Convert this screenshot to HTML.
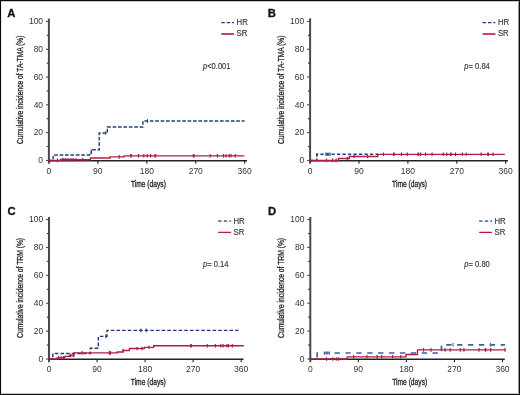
<!DOCTYPE html>
<html><head><meta charset="utf-8"><style>
html,body{margin:0;padding:0;background:#fff;}
body{width:520px;height:395px;overflow:hidden;}
svg{display:block;font-family:"Liberation Sans", sans-serif;will-change:transform;}
</style></head><body>
<svg width="520" height="395" viewBox="0 0 520 395">
<rect x="0" y="0" width="520" height="395" fill="#fff"/>
<line x1="48.90" y1="18.50" x2="48.90" y2="163.65" stroke="#4a4a4a" stroke-width="2"/>
<line x1="48.10" y1="160.70" x2="247.00" y2="160.70" stroke="#222" stroke-width="1.4"/>
<line x1="45.90" y1="160.45" x2="48.90" y2="160.45" stroke="#4a4a4a" stroke-width="1.1"/>
<text x="43.10" y="163.25" text-anchor="end" font-size="8.5" fill="#333" >0</text>
<line x1="46.70" y1="146.55" x2="48.90" y2="146.55" stroke="#333" stroke-width="1.1"/>
<line x1="45.90" y1="132.65" x2="48.90" y2="132.65" stroke="#4a4a4a" stroke-width="1.1"/>
<text x="43.10" y="135.45" text-anchor="end" font-size="8.5" fill="#333" >20</text>
<line x1="46.70" y1="118.75" x2="48.90" y2="118.75" stroke="#333" stroke-width="1.1"/>
<line x1="45.90" y1="104.85" x2="48.90" y2="104.85" stroke="#4a4a4a" stroke-width="1.1"/>
<text x="43.10" y="107.65" text-anchor="end" font-size="8.5" fill="#333" >40</text>
<line x1="46.70" y1="90.95" x2="48.90" y2="90.95" stroke="#333" stroke-width="1.1"/>
<line x1="45.90" y1="77.05" x2="48.90" y2="77.05" stroke="#4a4a4a" stroke-width="1.1"/>
<text x="43.10" y="79.85" text-anchor="end" font-size="8.5" fill="#333" >60</text>
<line x1="46.70" y1="63.15" x2="48.90" y2="63.15" stroke="#333" stroke-width="1.1"/>
<line x1="45.90" y1="49.25" x2="48.90" y2="49.25" stroke="#4a4a4a" stroke-width="1.1"/>
<text x="43.10" y="52.05" text-anchor="end" font-size="8.5" fill="#333" >80</text>
<line x1="46.70" y1="35.35" x2="48.90" y2="35.35" stroke="#333" stroke-width="1.1"/>
<line x1="45.90" y1="21.45" x2="48.90" y2="21.45" stroke="#4a4a4a" stroke-width="1.1"/>
<text x="43.10" y="24.25" text-anchor="end" font-size="8.5" fill="#333" >100</text>
<text x="48.90" y="173.65" text-anchor="middle" font-size="8.5" fill="#333" >0</text>
<line x1="97.85" y1="160.45" x2="97.85" y2="163.65" stroke="#222" stroke-width="1.1"/>
<text x="97.85" y="173.65" text-anchor="middle" font-size="8.5" fill="#333" >90</text>
<line x1="146.80" y1="160.45" x2="146.80" y2="163.65" stroke="#222" stroke-width="1.1"/>
<text x="146.80" y="173.65" text-anchor="middle" font-size="8.5" fill="#333" >180</text>
<line x1="195.75" y1="160.45" x2="195.75" y2="163.65" stroke="#222" stroke-width="1.1"/>
<text x="195.75" y="173.65" text-anchor="middle" font-size="8.5" fill="#333" >270</text>
<line x1="244.70" y1="160.45" x2="244.70" y2="163.65" stroke="#222" stroke-width="1.1"/>
<text x="244.70" y="173.65" text-anchor="middle" font-size="8.5" fill="#333" >360</text>
<text transform="translate(23.10,89.80) rotate(-90)" text-anchor="middle" font-size="9.7" fill="#222" stroke="#222" stroke-width="0.3" textLength="108.6" lengthAdjust="spacingAndGlyphs">Cumulative incidence of TA-TMA (%)</text>
<text x="148.40" y="186.60" text-anchor="middle" font-size="8.9" fill="#222" stroke="#222" stroke-width="0.3" textLength="35" lengthAdjust="spacingAndGlyphs">Time (days)</text>
<text x="7.20" y="16.80" font-size="11.3" font-weight="bold" fill="#111" stroke="#111" stroke-width="0.3">A</text>
<line x1="221.30" y1="22.70" x2="234.10" y2="22.70" stroke="#22407e" stroke-width="1.3" stroke-dasharray="3.5 1.9"/>
<line x1="221.30" y1="34.00" x2="234.10" y2="34.00" stroke="#c8456a" stroke-width="2"/>
<text transform="translate(236.60,24.80) scale(1.0,1.06)" text-anchor="start" font-size="7.8" fill="#333" stroke="#333" stroke-width="0.12">HR</text>
<text transform="translate(236.60,36.30) scale(1.0,1.06)" text-anchor="start" font-size="7.8" fill="#333" stroke="#333" stroke-width="0.12">SR</text>
<text transform="translate(202.90,68.80) scale(1.0,1.13)" text-anchor="start" font-size="7.6" fill="#333" stroke="#333" stroke-width="0.12"><tspan font-style="italic">p</tspan>&lt;0.001</text>
<path d="M48.90,160.45 H53.20 V155.00 H91.30 V149.70 H99.20 V133.00 H107.30 V127.00 H142.90 V121.00 H244.50 V121.00" fill="none" stroke="#1f3c78" stroke-width="1.4" stroke-dasharray="3.6 1.8" stroke-dashoffset="0"/>
<path d="M48.90,160.45 H60.50 V159.70 H90.40 V158.00 H110.00 V156.90 H124.20 V155.80 H244.40 V155.80" fill="none" stroke="#aa1f47" stroke-width="1.35"/>
<line x1="57.40" y1="158.60" x2="57.40" y2="162.20" stroke="#aa1f47" stroke-width="1.2"/>
<line x1="62.40" y1="157.90" x2="62.40" y2="161.50" stroke="#aa1f47" stroke-width="1.2"/>
<line x1="63.90" y1="157.90" x2="63.90" y2="161.50" stroke="#aa1f47" stroke-width="1.2"/>
<line x1="65.80" y1="157.90" x2="65.80" y2="161.50" stroke="#aa1f47" stroke-width="1.2"/>
<line x1="68.20" y1="157.90" x2="68.20" y2="161.50" stroke="#aa1f47" stroke-width="1.2"/>
<line x1="71.00" y1="157.90" x2="71.00" y2="161.50" stroke="#aa1f47" stroke-width="1.2"/>
<line x1="73.20" y1="157.90" x2="73.20" y2="161.50" stroke="#aa1f47" stroke-width="1.2"/>
<line x1="75.90" y1="157.90" x2="75.90" y2="161.50" stroke="#aa1f47" stroke-width="1.2"/>
<line x1="82.60" y1="157.90" x2="82.60" y2="161.50" stroke="#aa1f47" stroke-width="1.2"/>
<line x1="119.20" y1="155.10" x2="119.20" y2="158.70" stroke="#aa1f47" stroke-width="1.2"/>
<line x1="131.00" y1="154.00" x2="131.00" y2="157.60" stroke="#aa1f47" stroke-width="1.8"/>
<line x1="138.50" y1="154.00" x2="138.50" y2="157.60" stroke="#aa1f47" stroke-width="1.2"/>
<line x1="143.80" y1="154.00" x2="143.80" y2="157.60" stroke="#aa1f47" stroke-width="1.2"/>
<line x1="147.20" y1="154.00" x2="147.20" y2="157.60" stroke="#aa1f47" stroke-width="1.2"/>
<line x1="150.60" y1="154.00" x2="150.60" y2="157.60" stroke="#aa1f47" stroke-width="1.2"/>
<line x1="155.30" y1="154.00" x2="155.30" y2="157.60" stroke="#aa1f47" stroke-width="1.8"/>
<line x1="193.70" y1="154.00" x2="193.70" y2="157.60" stroke="#aa1f47" stroke-width="1.8"/>
<line x1="210.20" y1="154.00" x2="210.20" y2="157.60" stroke="#aa1f47" stroke-width="1.2"/>
<line x1="217.40" y1="154.00" x2="217.40" y2="157.60" stroke="#aa1f47" stroke-width="1.2"/>
<line x1="223.50" y1="154.00" x2="223.50" y2="157.60" stroke="#aa1f47" stroke-width="1.2"/>
<line x1="226.10" y1="154.00" x2="226.10" y2="157.60" stroke="#aa1f47" stroke-width="1.2"/>
<line x1="229.20" y1="154.00" x2="229.20" y2="157.60" stroke="#aa1f47" stroke-width="1.2"/>
<line x1="231.00" y1="154.00" x2="231.00" y2="157.60" stroke="#aa1f47" stroke-width="1.2"/>
<line x1="235.30" y1="154.00" x2="235.30" y2="157.60" stroke="#aa1f47" stroke-width="1.2"/>
<line x1="91.30" y1="149.70" x2="91.30" y2="153.30" stroke="#1f3c78" stroke-width="1.1"/>
<line x1="105.80" y1="131.20" x2="105.80" y2="134.80" stroke="#1f3c78" stroke-width="1.1"/>
<line x1="147.50" y1="119.20" x2="147.50" y2="122.80" stroke="#1f3c78" stroke-width="1.1"/>
<line x1="310.10" y1="18.30" x2="310.10" y2="163.65" stroke="#4a4a4a" stroke-width="2"/>
<line x1="309.30" y1="160.70" x2="508.00" y2="160.70" stroke="#222" stroke-width="1.4"/>
<line x1="307.10" y1="160.45" x2="310.10" y2="160.45" stroke="#4a4a4a" stroke-width="1.1"/>
<text x="304.30" y="163.25" text-anchor="end" font-size="8.5" fill="#333" >0</text>
<line x1="307.90" y1="146.55" x2="310.10" y2="146.55" stroke="#333" stroke-width="1.1"/>
<line x1="307.10" y1="132.65" x2="310.10" y2="132.65" stroke="#4a4a4a" stroke-width="1.1"/>
<text x="304.30" y="135.45" text-anchor="end" font-size="8.5" fill="#333" >20</text>
<line x1="307.90" y1="118.75" x2="310.10" y2="118.75" stroke="#333" stroke-width="1.1"/>
<line x1="307.10" y1="104.85" x2="310.10" y2="104.85" stroke="#4a4a4a" stroke-width="1.1"/>
<text x="304.30" y="107.65" text-anchor="end" font-size="8.5" fill="#333" >40</text>
<line x1="307.90" y1="90.95" x2="310.10" y2="90.95" stroke="#333" stroke-width="1.1"/>
<line x1="307.10" y1="77.05" x2="310.10" y2="77.05" stroke="#4a4a4a" stroke-width="1.1"/>
<text x="304.30" y="79.85" text-anchor="end" font-size="8.5" fill="#333" >60</text>
<line x1="307.90" y1="63.15" x2="310.10" y2="63.15" stroke="#333" stroke-width="1.1"/>
<line x1="307.10" y1="49.25" x2="310.10" y2="49.25" stroke="#4a4a4a" stroke-width="1.1"/>
<text x="304.30" y="52.05" text-anchor="end" font-size="8.5" fill="#333" >80</text>
<line x1="307.90" y1="35.35" x2="310.10" y2="35.35" stroke="#333" stroke-width="1.1"/>
<line x1="307.10" y1="21.45" x2="310.10" y2="21.45" stroke="#4a4a4a" stroke-width="1.1"/>
<text x="304.30" y="24.25" text-anchor="end" font-size="8.5" fill="#333" >100</text>
<text x="310.10" y="173.65" text-anchor="middle" font-size="8.5" fill="#333" >0</text>
<line x1="359.00" y1="160.45" x2="359.00" y2="163.65" stroke="#222" stroke-width="1.1"/>
<text x="359.00" y="173.65" text-anchor="middle" font-size="8.5" fill="#333" >90</text>
<line x1="407.90" y1="160.45" x2="407.90" y2="163.65" stroke="#222" stroke-width="1.1"/>
<text x="407.90" y="173.65" text-anchor="middle" font-size="8.5" fill="#333" >180</text>
<line x1="456.80" y1="160.45" x2="456.80" y2="163.65" stroke="#222" stroke-width="1.1"/>
<text x="456.80" y="173.65" text-anchor="middle" font-size="8.5" fill="#333" >270</text>
<line x1="505.70" y1="160.45" x2="505.70" y2="163.65" stroke="#222" stroke-width="1.1"/>
<text x="505.70" y="173.65" text-anchor="middle" font-size="8.5" fill="#333" >360</text>
<text transform="translate(284.20,89.80) rotate(-90)" text-anchor="middle" font-size="9.7" fill="#222" stroke="#222" stroke-width="0.3" textLength="108.6" lengthAdjust="spacingAndGlyphs">Cumulative incidence of TA-TMA (%)</text>
<text x="409.60" y="186.70" text-anchor="middle" font-size="8.9" fill="#222" stroke="#222" stroke-width="0.3" textLength="35" lengthAdjust="spacingAndGlyphs">Time (days)</text>
<text x="267.70" y="16.80" font-size="11.3" font-weight="bold" fill="#111" stroke="#111" stroke-width="0.3">B</text>
<line x1="482.60" y1="22.70" x2="495.40" y2="22.70" stroke="#22407e" stroke-width="1.3" stroke-dasharray="3.5 1.9"/>
<line x1="482.60" y1="34.00" x2="495.40" y2="34.00" stroke="#c8456a" stroke-width="2"/>
<text transform="translate(497.90,24.80) scale(1.0,1.06)" text-anchor="start" font-size="7.8" fill="#333" stroke="#333" stroke-width="0.12">HR</text>
<text transform="translate(497.90,36.30) scale(1.0,1.06)" text-anchor="start" font-size="7.8" fill="#333" stroke="#333" stroke-width="0.12">SR</text>
<text transform="translate(464.30,68.80) scale(1.0,1.13)" text-anchor="start" font-size="7.6" fill="#333" stroke="#333" stroke-width="0.12"><tspan font-style="italic">p</tspan>= 0.84</text>
<path d="M310.10,160.45 H316.80 V154.30 H377.80 V154.30" fill="none" stroke="#1f3c78" stroke-width="1.4" stroke-dasharray="3.3 2.2" stroke-dashoffset="0"/>
<path d="M310.10,160.45 H338.50 V158.50 H349.30 V156.50 H377.80 V154.30 H504.80 V154.30" fill="none" stroke="#aa1f47" stroke-width="1.35"/>
<line x1="326.50" y1="158.60" x2="326.50" y2="162.20" stroke="#aa1f47" stroke-width="1.2"/>
<line x1="332.60" y1="158.60" x2="332.60" y2="162.20" stroke="#aa1f47" stroke-width="1.2"/>
<line x1="336.10" y1="158.60" x2="336.10" y2="162.20" stroke="#aa1f47" stroke-width="1.2"/>
<line x1="347.40" y1="156.70" x2="347.40" y2="160.30" stroke="#aa1f47" stroke-width="1.2"/>
<line x1="354.10" y1="154.70" x2="354.10" y2="158.30" stroke="#aa1f47" stroke-width="1.2"/>
<line x1="367.60" y1="154.70" x2="367.60" y2="158.30" stroke="#aa1f47" stroke-width="1.2"/>
<line x1="383.50" y1="152.50" x2="383.50" y2="156.10" stroke="#aa1f47" stroke-width="1.2"/>
<line x1="393.60" y1="152.50" x2="393.60" y2="156.10" stroke="#aa1f47" stroke-width="1.2"/>
<line x1="394.00" y1="152.50" x2="394.00" y2="156.10" stroke="#aa1f47" stroke-width="1.2"/>
<line x1="401.50" y1="152.50" x2="401.50" y2="156.10" stroke="#aa1f47" stroke-width="1.2"/>
<line x1="407.30" y1="152.50" x2="407.30" y2="156.10" stroke="#aa1f47" stroke-width="1.2"/>
<line x1="418.30" y1="152.50" x2="418.30" y2="156.10" stroke="#aa1f47" stroke-width="1.8"/>
<line x1="420.60" y1="152.50" x2="420.60" y2="156.10" stroke="#aa1f47" stroke-width="1.2"/>
<line x1="425.50" y1="152.50" x2="425.50" y2="156.10" stroke="#aa1f47" stroke-width="1.2"/>
<line x1="432.10" y1="152.50" x2="432.10" y2="156.10" stroke="#aa1f47" stroke-width="1.2"/>
<line x1="446.70" y1="152.50" x2="446.70" y2="156.10" stroke="#aa1f47" stroke-width="1.2"/>
<line x1="450.90" y1="152.50" x2="450.90" y2="156.10" stroke="#aa1f47" stroke-width="1.8"/>
<line x1="462.40" y1="152.50" x2="462.40" y2="156.10" stroke="#aa1f47" stroke-width="1.2"/>
<line x1="466.20" y1="152.50" x2="466.20" y2="156.10" stroke="#aa1f47" stroke-width="1.2"/>
<line x1="481.20" y1="152.50" x2="481.20" y2="156.10" stroke="#aa1f47" stroke-width="1.2"/>
<line x1="488.10" y1="152.50" x2="488.10" y2="156.10" stroke="#aa1f47" stroke-width="1.8"/>
<line x1="493.00" y1="152.50" x2="493.00" y2="156.10" stroke="#aa1f47" stroke-width="1.2"/>
<line x1="316.80" y1="153.20" x2="316.80" y2="156.80" stroke="#1f3c78" stroke-width="1.1"/>
<line x1="326.00" y1="152.50" x2="326.00" y2="156.10" stroke="#1f3c78" stroke-width="1.1"/>
<line x1="328.00" y1="152.50" x2="328.00" y2="156.10" stroke="#1f3c78" stroke-width="1.1"/>
<line x1="330.00" y1="152.50" x2="330.00" y2="156.10" stroke="#1f3c78" stroke-width="1.1"/>
<line x1="443.30" y1="152.50" x2="443.30" y2="156.10" stroke="#1f3c78" stroke-width="1.1"/>
<line x1="455.50" y1="152.50" x2="455.50" y2="156.10" stroke="#1f3c78" stroke-width="1.1"/>
<line x1="49.00" y1="216.90" x2="49.00" y2="362.20" stroke="#4a4a4a" stroke-width="2"/>
<line x1="48.20" y1="359.25" x2="243.50" y2="359.25" stroke="#222" stroke-width="1.4"/>
<line x1="46.00" y1="359.00" x2="49.00" y2="359.00" stroke="#4a4a4a" stroke-width="1.1"/>
<text x="43.20" y="361.80" text-anchor="end" font-size="8.5" fill="#333" >0</text>
<line x1="46.80" y1="345.06" x2="49.00" y2="345.06" stroke="#333" stroke-width="1.1"/>
<line x1="46.00" y1="331.12" x2="49.00" y2="331.12" stroke="#4a4a4a" stroke-width="1.1"/>
<text x="43.20" y="333.92" text-anchor="end" font-size="8.5" fill="#333" >20</text>
<line x1="46.80" y1="317.18" x2="49.00" y2="317.18" stroke="#333" stroke-width="1.1"/>
<line x1="46.00" y1="303.24" x2="49.00" y2="303.24" stroke="#4a4a4a" stroke-width="1.1"/>
<text x="43.20" y="306.04" text-anchor="end" font-size="8.5" fill="#333" >40</text>
<line x1="46.80" y1="289.30" x2="49.00" y2="289.30" stroke="#333" stroke-width="1.1"/>
<line x1="46.00" y1="275.36" x2="49.00" y2="275.36" stroke="#4a4a4a" stroke-width="1.1"/>
<text x="43.20" y="278.16" text-anchor="end" font-size="8.5" fill="#333" >60</text>
<line x1="46.80" y1="261.42" x2="49.00" y2="261.42" stroke="#333" stroke-width="1.1"/>
<line x1="46.00" y1="247.48" x2="49.00" y2="247.48" stroke="#4a4a4a" stroke-width="1.1"/>
<text x="43.20" y="250.28" text-anchor="end" font-size="8.5" fill="#333" >80</text>
<line x1="46.80" y1="233.54" x2="49.00" y2="233.54" stroke="#333" stroke-width="1.1"/>
<line x1="46.00" y1="219.60" x2="49.00" y2="219.60" stroke="#4a4a4a" stroke-width="1.1"/>
<text x="43.20" y="222.40" text-anchor="end" font-size="8.5" fill="#333" >100</text>
<text x="49.00" y="372.20" text-anchor="middle" font-size="8.5" fill="#333" >0</text>
<line x1="97.05" y1="359.00" x2="97.05" y2="362.20" stroke="#222" stroke-width="1.1"/>
<text x="97.05" y="372.20" text-anchor="middle" font-size="8.5" fill="#333" >90</text>
<line x1="145.10" y1="359.00" x2="145.10" y2="362.20" stroke="#222" stroke-width="1.1"/>
<text x="145.10" y="372.20" text-anchor="middle" font-size="8.5" fill="#333" >180</text>
<line x1="193.15" y1="359.00" x2="193.15" y2="362.20" stroke="#222" stroke-width="1.1"/>
<text x="193.15" y="372.20" text-anchor="middle" font-size="8.5" fill="#333" >270</text>
<line x1="241.20" y1="359.00" x2="241.20" y2="362.20" stroke="#222" stroke-width="1.1"/>
<text x="241.20" y="372.20" text-anchor="middle" font-size="8.5" fill="#333" >360</text>
<text transform="translate(23.00,287.90) rotate(-90)" text-anchor="middle" font-size="9.7" fill="#222" stroke="#222" stroke-width="0.3" textLength="100" lengthAdjust="spacingAndGlyphs">Cumulative incidence of TRM (%)</text>
<text x="148.30" y="385.20" text-anchor="middle" font-size="8.9" fill="#222" stroke="#222" stroke-width="0.3" textLength="35" lengthAdjust="spacingAndGlyphs">Time (days)</text>
<text x="7.40" y="214.90" font-size="11.3" font-weight="bold" fill="#111" stroke="#111" stroke-width="0.3">C</text>
<line x1="218.20" y1="221.10" x2="231.00" y2="221.10" stroke="#5877b0" stroke-width="1.8" stroke-dasharray="3.4 2.2"/>
<line x1="218.20" y1="232.40" x2="231.00" y2="232.40" stroke="#b8163f" stroke-width="1.3"/>
<text transform="translate(233.50,223.60) scale(1.0,1.06)" text-anchor="start" font-size="7.8" fill="#333" stroke="#333" stroke-width="0.12">HR</text>
<text transform="translate(233.50,235.10) scale(1.0,1.06)" text-anchor="start" font-size="7.8" fill="#333" stroke="#333" stroke-width="0.12">SR</text>
<text transform="translate(203.00,267.00) scale(1.0,1.13)" text-anchor="start" font-size="7.6" fill="#333" stroke="#333" stroke-width="0.12"><tspan font-style="italic">p</tspan>= 0.14</text>
<path d="M49.00,359.00 H52.80 V353.50 H90.30 V348.20 H98.30 V336.40 H107.00 V330.40 H240.50 V330.40" fill="none" stroke="#1f3c78" stroke-width="1.4" stroke-dasharray="3.6 2.05" stroke-dashoffset="0"/>
<path d="M49.00,359.00 H57.10 V357.80 H64.80 V356.40 H69.60 V355.50 H74.00 V352.90 H117.30 V352.00 H123.10 V350.50 H129.40 V348.50 H144.40 V347.30 H153.70 V345.70 H243.80 V345.70" fill="none" stroke="#aa1f47" stroke-width="1.35"/>
<line x1="58.60" y1="356.00" x2="58.60" y2="359.60" stroke="#aa1f47" stroke-width="1.2"/>
<line x1="61.00" y1="356.00" x2="61.00" y2="359.60" stroke="#aa1f47" stroke-width="1.2"/>
<line x1="63.40" y1="356.00" x2="63.40" y2="359.60" stroke="#aa1f47" stroke-width="1.2"/>
<line x1="70.60" y1="353.70" x2="70.60" y2="357.30" stroke="#aa1f47" stroke-width="1.2"/>
<line x1="73.50" y1="353.70" x2="73.50" y2="357.30" stroke="#aa1f47" stroke-width="1.2"/>
<line x1="82.10" y1="351.10" x2="82.10" y2="354.70" stroke="#aa1f47" stroke-width="1.2"/>
<line x1="109.30" y1="351.10" x2="109.30" y2="354.70" stroke="#aa1f47" stroke-width="1.2"/>
<line x1="110.40" y1="351.10" x2="110.40" y2="354.70" stroke="#aa1f47" stroke-width="1.2"/>
<line x1="123.10" y1="348.70" x2="123.10" y2="352.30" stroke="#aa1f47" stroke-width="1.2"/>
<line x1="137.00" y1="346.70" x2="137.00" y2="350.30" stroke="#aa1f47" stroke-width="1.2"/>
<line x1="142.10" y1="346.70" x2="142.10" y2="350.30" stroke="#aa1f47" stroke-width="1.2"/>
<line x1="149.00" y1="345.50" x2="149.00" y2="349.10" stroke="#aa1f47" stroke-width="1.2"/>
<line x1="191.00" y1="343.90" x2="191.00" y2="347.50" stroke="#aa1f47" stroke-width="1.8"/>
<line x1="207.30" y1="343.90" x2="207.30" y2="347.50" stroke="#aa1f47" stroke-width="1.2"/>
<line x1="215.40" y1="343.90" x2="215.40" y2="347.50" stroke="#aa1f47" stroke-width="1.2"/>
<line x1="220.80" y1="343.90" x2="220.80" y2="347.50" stroke="#aa1f47" stroke-width="1.2"/>
<line x1="223.10" y1="343.90" x2="223.10" y2="347.50" stroke="#aa1f47" stroke-width="1.2"/>
<line x1="226.90" y1="343.90" x2="226.90" y2="347.50" stroke="#aa1f47" stroke-width="1.2"/>
<line x1="228.50" y1="343.90" x2="228.50" y2="347.50" stroke="#aa1f47" stroke-width="1.2"/>
<line x1="232.30" y1="343.90" x2="232.30" y2="347.50" stroke="#aa1f47" stroke-width="1.2"/>
<line x1="105.80" y1="334.60" x2="105.80" y2="338.20" stroke="#1f3c78" stroke-width="1.1"/>
<line x1="141.00" y1="328.60" x2="141.00" y2="332.20" stroke="#1f3c78" stroke-width="1.1"/>
<line x1="146.20" y1="328.60" x2="146.20" y2="332.20" stroke="#1f3c78" stroke-width="1.1"/>
<line x1="310.30" y1="216.90" x2="310.30" y2="362.20" stroke="#4a4a4a" stroke-width="2"/>
<line x1="309.50" y1="359.25" x2="504.80" y2="359.25" stroke="#222" stroke-width="1.4"/>
<line x1="307.30" y1="359.00" x2="310.30" y2="359.00" stroke="#4a4a4a" stroke-width="1.1"/>
<text x="304.50" y="361.80" text-anchor="end" font-size="8.5" fill="#333" >0</text>
<line x1="308.10" y1="345.06" x2="310.30" y2="345.06" stroke="#333" stroke-width="1.1"/>
<line x1="307.30" y1="331.12" x2="310.30" y2="331.12" stroke="#4a4a4a" stroke-width="1.1"/>
<text x="304.50" y="333.92" text-anchor="end" font-size="8.5" fill="#333" >20</text>
<line x1="308.10" y1="317.18" x2="310.30" y2="317.18" stroke="#333" stroke-width="1.1"/>
<line x1="307.30" y1="303.24" x2="310.30" y2="303.24" stroke="#4a4a4a" stroke-width="1.1"/>
<text x="304.50" y="306.04" text-anchor="end" font-size="8.5" fill="#333" >40</text>
<line x1="308.10" y1="289.30" x2="310.30" y2="289.30" stroke="#333" stroke-width="1.1"/>
<line x1="307.30" y1="275.36" x2="310.30" y2="275.36" stroke="#4a4a4a" stroke-width="1.1"/>
<text x="304.50" y="278.16" text-anchor="end" font-size="8.5" fill="#333" >60</text>
<line x1="308.10" y1="261.42" x2="310.30" y2="261.42" stroke="#333" stroke-width="1.1"/>
<line x1="307.30" y1="247.48" x2="310.30" y2="247.48" stroke="#4a4a4a" stroke-width="1.1"/>
<text x="304.50" y="250.28" text-anchor="end" font-size="8.5" fill="#333" >80</text>
<line x1="308.10" y1="233.54" x2="310.30" y2="233.54" stroke="#333" stroke-width="1.1"/>
<line x1="307.30" y1="219.60" x2="310.30" y2="219.60" stroke="#4a4a4a" stroke-width="1.1"/>
<text x="304.50" y="222.40" text-anchor="end" font-size="8.5" fill="#333" >100</text>
<text x="310.30" y="372.20" text-anchor="middle" font-size="8.5" fill="#333" >0</text>
<line x1="358.35" y1="359.00" x2="358.35" y2="362.20" stroke="#222" stroke-width="1.1"/>
<text x="358.35" y="372.20" text-anchor="middle" font-size="8.5" fill="#333" >90</text>
<line x1="406.40" y1="359.00" x2="406.40" y2="362.20" stroke="#222" stroke-width="1.1"/>
<text x="406.40" y="372.20" text-anchor="middle" font-size="8.5" fill="#333" >180</text>
<line x1="454.45" y1="359.00" x2="454.45" y2="362.20" stroke="#222" stroke-width="1.1"/>
<text x="454.45" y="372.20" text-anchor="middle" font-size="8.5" fill="#333" >270</text>
<line x1="502.50" y1="359.00" x2="502.50" y2="362.20" stroke="#222" stroke-width="1.1"/>
<text x="502.50" y="372.20" text-anchor="middle" font-size="8.5" fill="#333" >360</text>
<text transform="translate(284.30,287.90) rotate(-90)" text-anchor="middle" font-size="9.7" fill="#222" stroke="#222" stroke-width="0.3" textLength="100" lengthAdjust="spacingAndGlyphs">Cumulative incidence of TRM (%)</text>
<text x="409.70" y="385.20" text-anchor="middle" font-size="8.9" fill="#222" stroke="#222" stroke-width="0.3" textLength="35" lengthAdjust="spacingAndGlyphs">Time (days)</text>
<text x="268.00" y="214.90" font-size="11.3" font-weight="bold" fill="#111" stroke="#111" stroke-width="0.3">D</text>
<line x1="479.20" y1="221.10" x2="492.00" y2="221.10" stroke="#5877b0" stroke-width="1.8" stroke-dasharray="3.4 2.2"/>
<line x1="479.20" y1="232.40" x2="492.00" y2="232.40" stroke="#b8163f" stroke-width="1.3"/>
<text transform="translate(494.50,223.60) scale(1.0,1.06)" text-anchor="start" font-size="7.8" fill="#333" stroke="#333" stroke-width="0.12">HR</text>
<text transform="translate(494.50,235.10) scale(1.0,1.06)" text-anchor="start" font-size="7.8" fill="#333" stroke="#333" stroke-width="0.12">SR</text>
<text transform="translate(464.30,267.00) scale(1.0,1.13)" text-anchor="start" font-size="7.6" fill="#333" stroke="#333" stroke-width="0.12"><tspan font-style="italic">p</tspan>= 0.80</text>
<path d="M310.30,359.00 H317.20 V353.00 H441.50 V344.80 H505.00 V344.80" fill="none" stroke="#3f5f9e" stroke-width="1.7" stroke-dasharray="5.3 5.6" stroke-dashoffset="2.5"/>
<path d="M310.30,359.00 H347.20 V356.80 H406.00 V354.50 H417.50 V349.90 H505.50 V349.90" fill="none" stroke="#aa1f47" stroke-width="1.35"/>
<line x1="326.50" y1="357.20" x2="326.50" y2="360.80" stroke="#aa1f47" stroke-width="1.2"/>
<line x1="332.80" y1="357.20" x2="332.80" y2="360.80" stroke="#aa1f47" stroke-width="1.2"/>
<line x1="336.30" y1="357.20" x2="336.30" y2="360.80" stroke="#aa1f47" stroke-width="1.2"/>
<line x1="338.60" y1="357.20" x2="338.60" y2="360.80" stroke="#aa1f47" stroke-width="1.2"/>
<line x1="353.60" y1="355.00" x2="353.60" y2="358.60" stroke="#aa1f47" stroke-width="1.2"/>
<line x1="367.00" y1="355.00" x2="367.00" y2="358.60" stroke="#aa1f47" stroke-width="1.2"/>
<line x1="377.10" y1="355.00" x2="377.10" y2="358.60" stroke="#aa1f47" stroke-width="1.2"/>
<line x1="381.80" y1="355.00" x2="381.80" y2="358.60" stroke="#aa1f47" stroke-width="1.2"/>
<line x1="392.60" y1="355.00" x2="392.60" y2="358.60" stroke="#aa1f47" stroke-width="1.2"/>
<line x1="400.70" y1="355.00" x2="400.70" y2="358.60" stroke="#aa1f47" stroke-width="1.2"/>
<line x1="423.50" y1="348.10" x2="423.50" y2="351.70" stroke="#aa1f47" stroke-width="1.2"/>
<line x1="431.00" y1="348.10" x2="431.00" y2="351.70" stroke="#aa1f47" stroke-width="1.2"/>
<line x1="445.10" y1="348.10" x2="445.10" y2="351.70" stroke="#aa1f47" stroke-width="1.2"/>
<line x1="450.20" y1="348.10" x2="450.20" y2="351.70" stroke="#aa1f47" stroke-width="1.2"/>
<line x1="460.30" y1="348.10" x2="460.30" y2="351.70" stroke="#aa1f47" stroke-width="1.2"/>
<line x1="463.90" y1="348.10" x2="463.90" y2="351.70" stroke="#aa1f47" stroke-width="1.2"/>
<line x1="479.00" y1="348.10" x2="479.00" y2="351.70" stroke="#aa1f47" stroke-width="1.2"/>
<line x1="485.50" y1="348.10" x2="485.50" y2="351.70" stroke="#aa1f47" stroke-width="1.8"/>
<line x1="490.60" y1="348.10" x2="490.60" y2="351.70" stroke="#aa1f47" stroke-width="1.2"/>
<line x1="505.00" y1="348.10" x2="505.00" y2="351.70" stroke="#aa1f47" stroke-width="1.2"/>
<line x1="324.70" y1="351.20" x2="324.70" y2="354.80" stroke="#3f5f9e" stroke-width="1.1"/>
<line x1="327.00" y1="351.20" x2="327.00" y2="354.80" stroke="#3f5f9e" stroke-width="1.1"/>
<line x1="329.30" y1="351.20" x2="329.30" y2="354.80" stroke="#3f5f9e" stroke-width="1.1"/>
<line x1="441.50" y1="347.70" x2="441.50" y2="351.30" stroke="#3f5f9e" stroke-width="1.1"/>
<line x1="453.00" y1="343.00" x2="453.00" y2="346.60" stroke="#3f5f9e" stroke-width="1.1"/>
<line x1="490.50" y1="343.00" x2="490.50" y2="346.60" stroke="#3f5f9e" stroke-width="1.1"/>
<rect x="0" y="0" width="520" height="1" fill="#0a0a0a"/>
<rect x="1" y="1" width="518" height="1" fill="#c8c8c8"/>
<rect x="0" y="394" width="520" height="1" fill="#0f0f0f"/>
<rect x="1" y="393" width="518" height="1" fill="#c8c8c8"/>
<rect x="0" y="0" width="1" height="395" fill="#0a0a0a"/>
<rect x="1" y="2" width="1" height="391" fill="#ebebeb"/>
<rect x="519" y="0" width="1" height="395" fill="#0f0f0f"/>
<rect x="518" y="2" width="1" height="391" fill="#969696"/>
</svg>
</body></html>
